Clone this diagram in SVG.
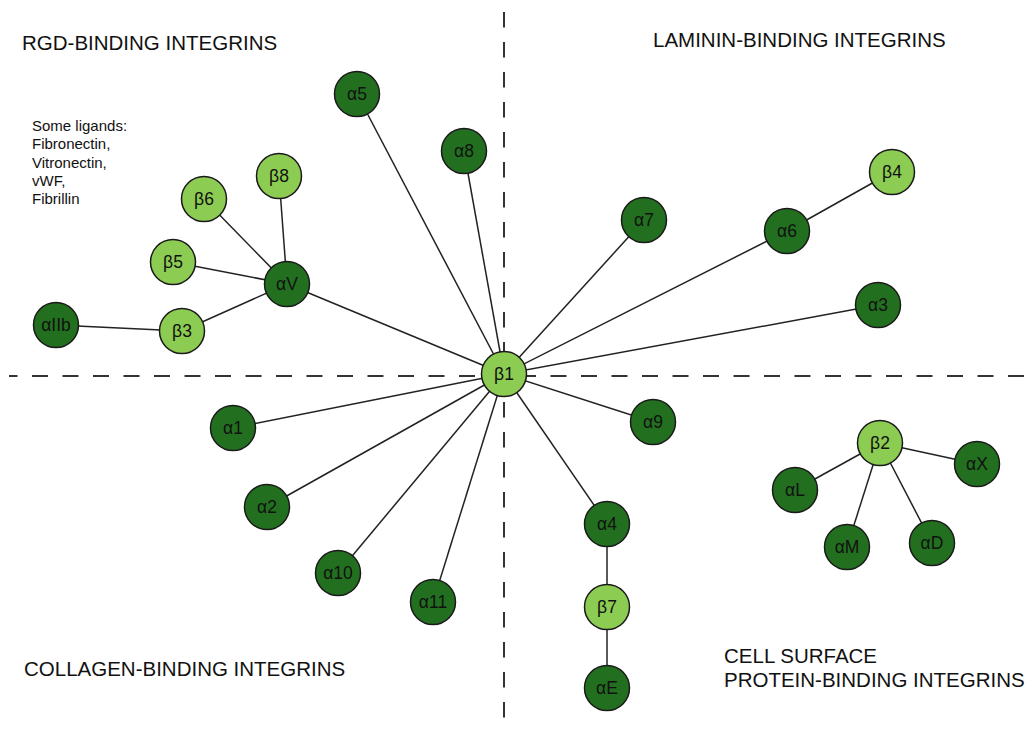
<svg xmlns="http://www.w3.org/2000/svg" width="1034" height="731" viewBox="0 0 1034 731">
<style>
.dk{fill:#22701f;stroke:#1a1a1a;stroke-width:1.5}
.lt{fill:#8dcc52;stroke:#1a1a1a;stroke-width:1.5}
.nl{font-family:"Liberation Sans",Arial,sans-serif;font-size:17.5px;fill:#111;text-anchor:middle;dominant-baseline:central}
.title{font-family:"Liberation Sans",Arial,sans-serif;font-size:20.5px;fill:#111}
.small{font-family:"Liberation Sans",Arial,sans-serif;font-size:15px;fill:#111}
.edge{stroke:#222;stroke-width:1.5;fill:none}
.dash{stroke:#333;stroke-width:2;fill:none;stroke-dasharray:16 14.5}
</style>
<rect width="1034" height="731" fill="#fff"/>
<g id="axes">
<line class="dash" x1="504" y1="12" x2="504" y2="731" style="stroke-dasharray:15.5 14.5"/>
<line class="dash" x1="9" y1="376" x2="1024" y2="376" style="stroke-dashoffset:7.5"/>
</g>
<g id="labels">
<text class="title" x="22" y="50">RGD-BINDING INTEGRINS</text>
<text class="title" x="653" y="47">LAMININ-BINDING INTEGRINS</text>
<text class="title" x="24" y="676">COLLAGEN-BINDING INTEGRINS</text>
<text class="title" x="724" y="663">CELL SURFACE</text>
<text class="title" x="724" y="687">PROTEIN-BINDING INTEGRINS</text>
<text class="small" x="32" y="131">Some ligands:</text>
<text class="small" x="32" y="149">Fibronectin,</text>
<text class="small" x="32" y="168">Vitronectin,</text>
<text class="small" x="32" y="186">vWF,</text>
<text class="small" x="32" y="204">Fibrillin</text>
</g>
<g id="connectors">
<line class="edge" x1="504" y1="374" x2="357" y2="94"/>
<line class="edge" x1="504" y1="374" x2="464" y2="151"/>
<line class="edge" x1="504" y1="374" x2="644" y2="220"/>
<line class="edge" x1="504" y1="374" x2="787" y2="231"/>
<line class="edge" x1="504" y1="374" x2="878" y2="305"/>
<line class="edge" x1="504" y1="374" x2="653" y2="422"/>
<line class="edge" x1="504" y1="374" x2="607" y2="524"/>
<line class="edge" x1="504" y1="374" x2="433" y2="602"/>
<line class="edge" x1="504" y1="374" x2="338" y2="573"/>
<line class="edge" x1="504" y1="374" x2="267" y2="507"/>
<line class="edge" x1="504" y1="374" x2="233" y2="428"/>
<line class="edge" x1="504" y1="374" x2="287" y2="284"/>
<line class="edge" x1="287" y1="284" x2="279" y2="176"/>
<line class="edge" x1="287" y1="284" x2="204" y2="199"/>
<line class="edge" x1="287" y1="284" x2="173" y2="262"/>
<line class="edge" x1="287" y1="284" x2="182" y2="331"/>
<line class="edge" x1="182" y1="331" x2="56" y2="325"/>
<line class="edge" x1="787" y1="231" x2="892" y2="172"/>
<line class="edge" x1="607" y1="524" x2="607" y2="607"/>
<line class="edge" x1="607" y1="607" x2="607" y2="688"/>
<line class="edge" x1="880" y1="443" x2="977" y2="464"/>
<line class="edge" x1="880" y1="443" x2="795" y2="490"/>
<line class="edge" x1="880" y1="443" x2="847" y2="547"/>
<line class="edge" x1="880" y1="443" x2="932" y2="543"/>
</g>
<g id="b1"><circle class="lt" cx="504" cy="374" r="22.5"/><text class="nl" x="504" y="374">β1</text></g>
<g id="a5"><circle class="dk" cx="357" cy="94" r="22.5"/><text class="nl" x="357" y="94">α5</text></g>
<g id="a8"><circle class="dk" cx="464" cy="151" r="22.5"/><text class="nl" x="464" y="151">α8</text></g>
<g id="b8"><circle class="lt" cx="279" cy="176" r="22.5"/><text class="nl" x="279" y="176">β8</text></g>
<g id="b6"><circle class="lt" cx="204" cy="199" r="22.5"/><text class="nl" x="204" y="199">β6</text></g>
<g id="b5"><circle class="lt" cx="173" cy="262" r="22.5"/><text class="nl" x="173" y="262">β5</text></g>
<g id="aV"><circle class="dk" cx="287" cy="284" r="22.5"/><text class="nl" x="287" y="284">αV</text></g>
<g id="aIIb"><circle class="dk" cx="56" cy="325" r="22.5"/><text class="nl" x="56" y="325">αIIb</text></g>
<g id="b3"><circle class="lt" cx="182" cy="331" r="22.5"/><text class="nl" x="182" y="331">β3</text></g>
<g id="a7"><circle class="dk" cx="644" cy="220" r="22.5"/><text class="nl" x="644" y="220">α7</text></g>
<g id="a6"><circle class="dk" cx="787" cy="231" r="22.5"/><text class="nl" x="787" y="231">α6</text></g>
<g id="b4"><circle class="lt" cx="892" cy="172" r="22.5"/><text class="nl" x="892" y="172">β4</text></g>
<g id="a3"><circle class="dk" cx="878" cy="305" r="22.5"/><text class="nl" x="878" y="305">α3</text></g>
<g id="a1"><circle class="dk" cx="233" cy="428" r="22.5"/><text class="nl" x="233" y="428">α1</text></g>
<g id="a2"><circle class="dk" cx="267" cy="507" r="22.5"/><text class="nl" x="267" y="507">α2</text></g>
<g id="a10"><circle class="dk" cx="338" cy="573" r="22.5"/><text class="nl" x="338" y="573">α10</text></g>
<g id="a11"><circle class="dk" cx="433" cy="602" r="22.5"/><text class="nl" x="433" y="602">α11</text></g>
<g id="a9"><circle class="dk" cx="653" cy="422" r="22.5"/><text class="nl" x="653" y="422">α9</text></g>
<g id="a4"><circle class="dk" cx="607" cy="524" r="22.5"/><text class="nl" x="607" y="524">α4</text></g>
<g id="b7"><circle class="lt" cx="607" cy="607" r="22.5"/><text class="nl" x="607" y="607">β7</text></g>
<g id="aE"><circle class="dk" cx="607" cy="688" r="22.5"/><text class="nl" x="607" y="688">αE</text></g>
<g id="b2"><circle class="lt" cx="880" cy="443" r="22.5"/><text class="nl" x="880" y="443">β2</text></g>
<g id="aX"><circle class="dk" cx="977" cy="464" r="22.5"/><text class="nl" x="977" y="464">αX</text></g>
<g id="aL"><circle class="dk" cx="795" cy="490" r="22.5"/><text class="nl" x="795" y="490">αL</text></g>
<g id="aM"><circle class="dk" cx="847" cy="547" r="22.5"/><text class="nl" x="847" y="547">αM</text></g>
<g id="aD"><circle class="dk" cx="932" cy="543" r="22.5"/><text class="nl" x="932" y="543">αD</text></g>
</svg>
